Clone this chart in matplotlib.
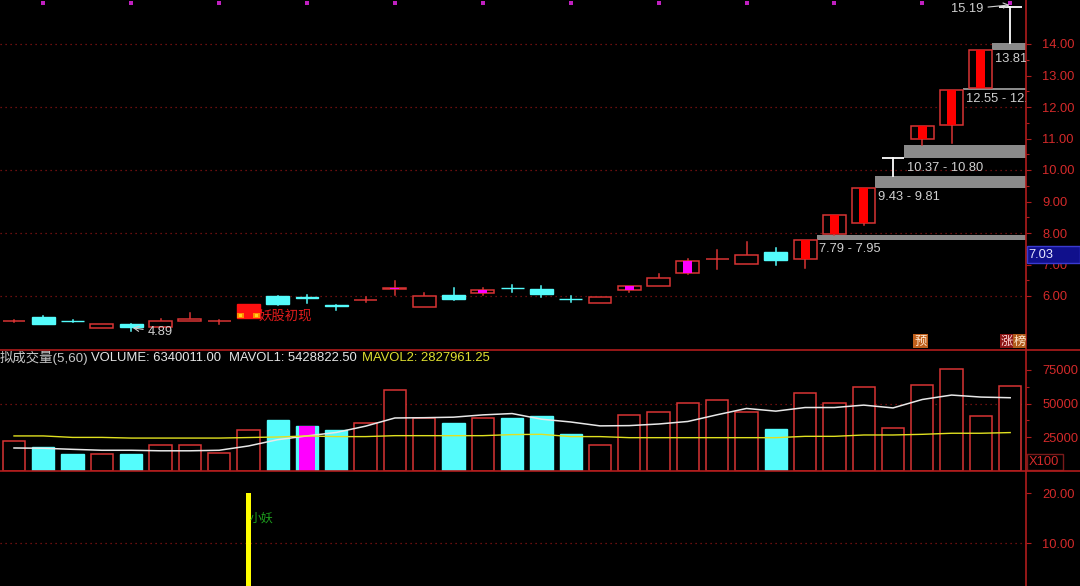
import matplotlib
matplotlib.use("Agg")
import matplotlib.pyplot as plt
from matplotlib.patches import Rectangle
from matplotlib.lines import Line2D

plt.rcParams['font.family'] = ['Liberation Sans', 'Noto Sans CJK SC', 'DejaVu Sans']

# ---------------- data ----------------
opens  = [5.20, 5.32, 5.22, 5.00, 5.10, 5.02, 5.20, 5.21, 5.30, 6.00, 5.97, 5.71, 5.86, 6.23, 5.64, 6.03, 6.11,
          6.26, 6.23, 5.91, 5.77, 6.18, 6.32, 6.74, 7.17, 7.01, 7.41, 7.18, 7.98, 8.31, 10.37, 10.97, 11.42,
          12.61, 15.19]
highs  = [5.24, 5.37, 5.25, 5.10, 5.10, 5.26, 5.45, 5.23, 5.74, 6.01, 6.03, 5.72, 5.98, 6.48, 6.10, 6.24, 6.25,
          6.36, 6.32, 6.00, 5.96, 6.32, 6.71, 7.17, 7.45, 7.72, 7.51, 7.79, 8.57, 9.43, 10.37, 11.41, 12.55,
          13.81, 15.19]
lows   = [5.18, 5.11, 5.17, 5.00, 4.89, 5.02, 5.20, 5.12, 5.30, 5.73, 5.78, 5.55, 5.80, 6.03, 5.64, 5.87, 6.02,
          6.12, 5.98, 5.80, 5.77, 6.14, 6.32, 6.70, 6.85, 7.01, 6.97, 6.88, 7.95, 8.25, 9.81, 10.80, 10.87,
          12.61, 14.02]
closes = [5.22, 5.11, 5.20, 5.10, 5.01, 5.21, 5.28, 5.22, 5.74, 5.76, 5.95, 5.69, 5.88, 6.25, 6.00, 5.90, 6.20,
          6.24, 6.05, 5.89, 5.96, 6.31, 6.58, 7.11, 7.19, 7.29, 7.15, 7.79, 8.57, 9.43, 10.37, 11.41, 12.55,
          13.81, 15.19]

volumes = [21900, 17600, 12200, 12200, 12200, 19400, 19400, 13000, 30100, 37800, 32900, 30400, 35200, 60200,
           39000, 35200, 39000, 39500, 40600, 27300, 19400, 41300, 43900, 50500, 52300, 43900, 30900, 57900,
           50500, 62000, 31600, 63800, 75500, 40600, 63400]
mavol1 = [16800, 16600, 15800, 15100, 15100, 14700, 14700, 15100, 18300, 23000, 25800, 28400, 33100, 39200,
          39400, 39800, 41500, 42500, 38300, 36200, 33300, 33500, 34700, 36600, 41600, 46300, 44300, 47000,
          47000, 48800, 46700, 53000, 56300, 54800, 54300]
mavol2 = [25800, 25800, 24700, 24700, 24200, 24200, 24200, 24200, 24600, 25000, 25800, 25300, 25300, 26000,
          26000, 26000, 26000, 26800, 27000, 25300, 25300, 24500, 24500, 24500, 24500, 24500, 24500, 25500,
          25500, 26500, 26500, 27000, 27800, 27800, 28300]

limit_up_idx = [27, 28, 29, 31, 32, 33]       # red-filled limit-up candles
one_price_idx = [30, 34]                      # T-shaped limit-up candles
magenta_idx = [13, 16, 21, 23]                # magenta marked candles
first_limit_idx = 8                           # "妖股初现" candle
vol_magenta_idx = [10]
top_dot_idx = [1, 4, 7, 10, 13, 16, 19, 22, 25, 28, 31, 34]

gap_start = [27, 29, 30, 32, 33]
gap_lo = [7.79, 9.43, 10.37, 12.55, 13.81]
gap_hi = [7.95, 9.81, 10.80, 12.61, 14.02]

price_ticks = [6, 7, 8, 9, 10, 11, 12, 13, 14]
vol_ticks = [25000, 50000, 75000]
sig_ticks = [10, 20]
signal_idx = [8]
signal_val = [20.0]

# ---------------- layout ----------------
W, H = 1080, 586
fig = plt.figure(figsize=(W / 100, H / 100), dpi=100, facecolor='black')

def ax_px(x0, y0, x1, y1):
    a = fig.add_axes([x0 / W, 1 - y1 / H, (x1 - x0) / W, (y1 - y0) / H])
    a.set_facecolor('black')
    return a

RED = '#d83434'
AXRED = '#b01c1c'
LBL = '#d42a2a'
CYAN = '#54fcfc'
MAG = '#ff00ff'
GRAY_TXT = '#d0d0d0'
DOT = '#8c1414'

XL = (-14 / 29.3, (1026 - 14) / 29.3)
axp = ax_px(0, 0, 1026, 350)
axv = ax_px(0, 350, 1026, 470.5)
axb = ax_px(0, 470.5, 1026, 586)
axp.set_ylim(6 - 54 / 31.5, 6 + 296 / 31.5)
axv.set_ylim(0, 120.5 / 33.5 * 25000)
axb.set_ylim(10 - 43 / 5, 20 + 22.5 / 5)

for a in (axp, axv, axb):
    a.set_xlim(*XL)
    a.set_xticks([])
    for s in ('top', 'left', 'bottom'):
        a.spines[s].set_visible(False)
    a.spines['right'].set_color(AXRED)
    a.spines['right'].set_linewidth(1.2)
    a.yaxis.tick_right()
    a.tick_params(axis='y', which='both', direction='out', color=AXRED, labelcolor=LBL,
                  labelsize=9.3, pad=8, width=0.8)
    a.tick_params(axis='y', which='major', length=3.6)
    a.tick_params(axis='y', which='minor', length=2.5)

axp.set_yticks(price_ticks)
axp.set_yticklabels([f"{v:.2f}" for v in price_ticks])
axp.set_yticks([v + 0.5 for v in price_ticks[:-1]], minor=True)
axv.set_yticks(vol_ticks)
axv.set_yticklabels([f"{v}" for v in vol_ticks])
axv.set_yticks([12500, 37500, 62500], minor=True)
axb.set_yticks(sig_ticks)
axb.set_yticklabels([f"{v:.2f}" for v in sig_ticks])

# dotted grid lines
for lv in [6, 8, 10, 12, 14]:
    axp.axhline(lv, color=DOT, lw=0.9, ls=(0, (1, 3)), zorder=0)
axv.axhline(50000, color=DOT, lw=0.9, ls=(0, (1, 3)), zorder=0)
axb.axhline(10, color=DOT, lw=0.9, ls=(0, (1, 3)), zorder=0)

# ---------------- price panel ----------------
hw = 0.39
iw = 0.155
n = len(opens)
for i, (lo, hi) in enumerate(zip(gap_lo, gap_hi)):
    k = gap_start[i]
    axp.add_patch(Rectangle((k + hw, lo), XL[1] - k - hw, hi - lo, fc='#8a8a8a', ec='none', zorder=1))
    axp.annotate(f"{lo:.2f} - {hi:.2f}", xy=(k + hw, lo), xytext=(2, -2.5), textcoords='offset points',
                 ha='left', va='top', color=GRAY_TXT, fontsize=9.3, clip_on=True, zorder=5)

for k in range(n):
    o, h, l, c = opens[k], highs[k], lows[k], closes[k]
    if k in one_price_idx:
        axp.plot([k - hw, k + hw], [c, c], color='white', lw=1.3, zorder=4, solid_capstyle='butt')
        axp.plot([k, k], [l, h], color='white', lw=1.3, zorder=4)
        continue
    if c >= o:
        bot, top = o, c
        if k == first_limit_idx:
            axp.add_patch(Rectangle((k - hw, bot), 2 * hw, top - bot, fc='#ff1010', ec='#ff1010', lw=1, zorder=3))
        else:
            axp.add_patch(Rectangle((k - hw, bot), 2 * hw, max(top - bot, 0.005), fc='black', ec=RED, lw=1.1, zorder=3))
        if h > top:
            axp.plot([k, k], [top, h], color=RED, lw=1.1, zorder=2)
        if l < bot:
            axp.plot([k, k], [l, bot], color=RED, lw=1.1, zorder=2)
        if k in limit_up_idx:
            axp.add_patch(Rectangle((k - iw, bot), 2 * iw, top - bot, fc='#ff0000', ec='none', zorder=3.5))
        if k in magenta_idx:
            axp.add_patch(Rectangle((k - iw, bot), 2 * iw, max(top - bot, 0.02), fc=MAG, ec='none', zorder=3.5))
    else:
        axp.plot([k, k], [l, h], color=CYAN, lw=1.1, zorder=2)
        axp.add_patch(Rectangle((k - hw, c), 2 * hw, o - c, fc=CYAN, ec=CYAN, lw=1, zorder=3))

# marker decorations on first limit-up candle
k = first_limit_idx
for dx in (-hw, hw - 0.24):
    axp.add_patch(Rectangle((k + dx, opens[k]), 0.24, 0.16, fc='#ff8c00', ec='none', zorder=3.6))
    axp.add_patch(Rectangle((k + dx + 0.07, opens[k] + 0.03), 0.1, 0.09, fc='#ffd21e', ec='none', zorder=3.7))
axp.text(k + hw - 0.05, 5.365, "妖股初现", color='#e01c1c', fontsize=9.6, va='center', ha='left',
         family=['Noto Sans CJK SC'], zorder=6)

# top magenta dots
axp.scatter(top_dot_idx, [15.30] * len(top_dot_idx), marker='s', s=9, color='#c020c0', zorder=6, linewidths=0)

# min / max annotations
kmin = lows.index(min(lows))
axp.annotate(f"{lows[kmin]:.2f}", xy=(kmin + 0.05, lows[kmin] + 0.1), xytext=(kmin + 0.55, lows[kmin] - 0.03),
             ha='left', va='center', color=GRAY_TXT, fontsize=9.3,
             arrowprops=dict(arrowstyle='->', color=GRAY_TXT, lw=0.8, shrinkA=1, shrinkB=0), zorder=6)
kmax = highs.index(max(highs))
axp.annotate(f"{highs[kmax]:.2f}", xy=(kmax - 0.02, highs[kmax] + 0.05), xytext=(kmax - 0.9, highs[kmax] - 0.08),
             ha='right', va='center', color=GRAY_TXT, fontsize=9.3,
             arrowprops=dict(arrowstyle='->', color=GRAY_TXT, lw=0.8, shrinkA=1, shrinkB=0), zorder=6)

# ---------------- volume panel ----------------
vw = 0.38
for k in range(n):
    v = volumes[k]
    if k in vol_magenta_idx:
        axv.add_patch(Rectangle((k - vw, 0), 2 * vw, v, fc=CYAN, ec=CYAN, lw=1, zorder=3))
        axv.add_patch(Rectangle((k - 0.27, 0), 0.54, v, fc=MAG, ec='none', zorder=3.5))
    elif closes[k] >= opens[k]:
        axv.add_patch(Rectangle((k - vw, 0), 2 * vw, v, fc='black', ec=RED, lw=1.1, zorder=3))
    else:
        axv.add_patch(Rectangle((k - vw, 0), 2 * vw, v, fc=CYAN, ec=CYAN, lw=1, zorder=3))
axv.plot(range(n), mavol1, color='#e8e8e8', lw=1.1, zorder=4)
axv.plot(range(n), mavol2, color='#e0e020', lw=1.0, zorder=4)

# ---------------- signal panel ----------------
for k, v in zip(signal_idx, signal_val):
    axb.add_patch(Rectangle((k - 0.085, 0), 0.17, v, fc='#ffff00', ec='none', zorder=3))
    axb.text(k + 0.03, 15.0, "小妖", color='#1ea01e', fontsize=8.6, va='center', ha='left',
             family=['Noto Sans CJK SC'], zorder=4)

# ---------------- figure-level decorations ----------------
def hline(y, x0=0, x1=W, color=AXRED, lw=1.2):
    fig.add_artist(Line2D([x0 / W, x1 / W], [1 - y / H, 1 - y / H], color=color, lw=lw))

hline(350)
hline(470.5)

def ftext(x, y, s, **kw):
    fig.text(x / W, 1 - y / H, s, va='center', ha='left', **kw)

ftext(0, 358, "拟成交量(5,60)", color='#c8c8c8', fontsize=9.6)
ftext(91, 358, "VOLUME: 6340011.00", color='#e6e6e6', fontsize=9.4)
ftext(229, 358, "MAVOL1: 5428822.50", color='#e6e6e6', fontsize=9.4)
ftext(362, 358, "MAVOL2: 2827961.25", color='#e0e030', fontsize=9.4)

# current price box on axis
fig.add_artist(Rectangle((1027 / W, 1 - 263 / H), 53 / W, 17 / H, transform=fig.transFigure,
                         fc='#10108c', ec='#3a3ad0', lw=1))
ftext(1028, 254.5, "7.03", color='#e8e8ff', fontsize=9.3)

# X100 box
fig.add_artist(Rectangle((1027 / W, 1 - 470 / H), 36 / W, 16 / H, transform=fig.transFigure,
                         fc='none', ec='#7a1a1a', lw=1))
ftext(1029, 462, "X100", color=LBL, fontsize=9.3)

# info markers
def tag(x0, y0, w, h, s, fc, tc):
    fig.add_artist(Rectangle((x0 / W, 1 - (y0 + h) / H), w / W, h / H, transform=fig.transFigure,
                             fc=fc, ec='none'))
    fig.text((x0 + w / 2) / W, 1 - (y0 + h / 2) / H, s, ha='center', va='center', color=tc,
             fontsize=8.8, family=['Noto Sans CJK SC'])

tag(913, 334, 15, 14, "预", '#c0601c', '#ffe8d0')
tag(1000, 334, 13, 14, "涨", '#8c1616', '#ffd8d8')
tag(1013, 334, 13, 14, "榜", '#b05c1c', '#ffe8d0')

fig.savefig("out.png", dpi=100, facecolor='black')
